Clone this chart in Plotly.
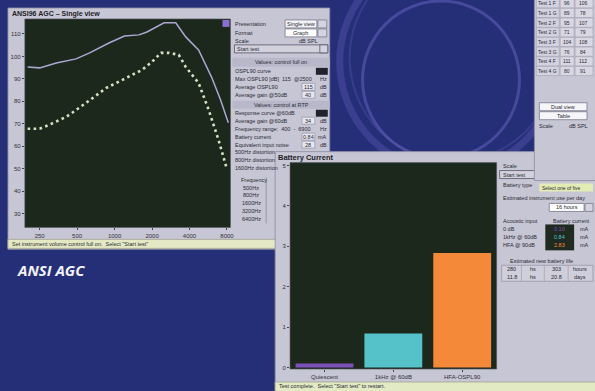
import math
import plotly.graph_objects as go

W, H = 595, 391

# ANSI AGC frequency response (dB SPL vs Hz)
ospl90_freq_hz = [200, 250, 340, 490, 630, 900, 1200, 1570, 1820, 2500, 3100, 3730, 4730, 6000, 7100, 8200]
ospl90_db = [95.3, 94.9, 97.1, 98.9, 101.6, 106.0, 109.1, 109.6, 110.9, 115.0, 115.0, 108.7, 102.9, 90.9, 80.7, 70.4]
response_freq_hz = [200, 250, 300, 410, 590, 860, 1240, 1660, 2000, 2360, 2730, 3280, 3730, 4730, 5700, 6830, 7930]
response_60db = [67.8, 67.8, 69.6, 73.1, 79.3, 86.0, 90.4, 94.0, 97.6, 101.6, 101.6, 100.7, 95.3, 88.2, 76.2, 62.9, 50.4]
freq_ticks = [250, 500, 1000, 2000, 4000, 8000]
level_ticks = [30, 40, 50, 60, 70, 80, 90, 100, 110]

# Battery current per acoustic input (mA)
battery_inputs = ["Quiescent", "1kHz @ 60dB", "HFA-OSPL90"]
battery_current_ma = [0.10, 0.84, 2.83]
battery_colors = ["#7d52b8", "#55c1c9", "#f5893a"]
current_ticks = [0, 1, 2, 3, 4, 5]
acoustic_inputs = ["0 dB", "1kHz @ 60dB", "HFA @ 90dB"]

# Test result table
test_names = ["Test 1 F", "Test 1 G", "Test 2 F", "Test 2 G", "Test 3 F", "Test 3 G", "Test 4 F", "Test 4 G"]
test_col_a = [96, 89, 95, 71, 104, 76, 111, 80]
test_col_b = [106, 78, 107, 79, 108, 84, 112, 91]

distortion_freqs = ["500Hz", "800Hz", "1600Hz", "3200Hz", "6400Hz"]

NAVY = "#252f78"
PANEL = "#c7c6d4"
FRAME = "#8d8ca3"
INK = "#2a2a35"
PLOT_BG = "#1d281d"
UI_FONT = "Liberation Sans"

shapes = []
annotations = []


def box(x0, y0, x1, y1, fill, line=None, lw=0.8):
    shapes.append(dict(
        type="rect", xref="paper", yref="paper",
        x0=x0 / W, x1=x1 / W, y0=1 - y1 / H, y1=1 - y0 / H,
        fillcolor=fill,
        line=dict(color=line if line else fill, width=lw if line else 0),
        layer="below"))


def ring(cx, cy, r, color, width):
    shapes.append(dict(
        type="circle", xref="paper", yref="paper",
        x0=(cx - r) / W, x1=(cx + r) / W, y0=1 - (cy + r) / H, y1=1 - (cy - r) / H,
        line=dict(color=color, width=width), fillcolor="rgba(0,0,0,0)",
        layer="below"))


def vline(x, y0, y1, color="#8d8ca3", width=0.8):
    shapes.append(dict(
        type="line", xref="paper", yref="paper",
        x0=x / W, x1=x / W, y0=1 - y1 / H, y1=1 - y0 / H,
        line=dict(color=color, width=width), layer="below"))


def text(x, y, s, size=5.5, color=INK, anchor="left", bold=False, family=UI_FONT):
    annotations.append(dict(
        xref="paper", yref="paper", x=x / W, y=1 - y / H,
        text=f"<b>{s}</b>" if bold else s, showarrow=False,
        xanchor=anchor, yanchor="middle", borderpad=0,
        font=dict(size=size, color=color, family=family)))


def plot_bg(xref, yref):
    shapes.append(dict(
        type="rect", xref=f"{xref} domain", yref=f"{yref} domain",
        x0=0, x1=1, y0=0, y1=1, fillcolor=PLOT_BG,
        line=dict(color="#555566", width=0.6), layer="below"))


# decorative rings on the backdrop
ring(452, 62, 110, "rgba(95,88,180,0.40)", 7)
ring(456, 58, 104, "rgba(100,92,185,0.30)", 2)
ring(444, 80, 79, "rgba(100,95,185,0.55)", 3)

# ---- AGC window ----
box(8, 8, 332, 250, PANEL, FRAME)
text(11, 14, "ANSI96 AGC – Single view", size=7, bold=True, color="#1e1e28")
plot_bg("x", "y")
box(224, 20, 231, 27, "#8b6fd0")

box(287, 20, 319, 28, "#f3f3f8", "#77778a")
box(320, 20, 329, 28, "#d4d3df", "#77778a")
box(287, 29, 319, 37, "#ffffff", "#77778a")
box(320, 29, 329, 37, "#d4d3df", "#77778a")
text(236, 24, "Presentation")
text(303, 24, "Single view", anchor="center")
text(236, 33, "Format")
text(303, 33, "Graph", anchor="center")
text(236, 41, "Scale")
text(300, 41, "dB SPL")
box(236, 45, 330, 53, "#d2d1dc", "#55556a")
box(322, 45, 330, 53, "#d4d3df", "#55556a")
text(238, 49, "Start test")

box(234, 58, 332, 67, "#b9b8cb")
text(283, 62.5, "Values: control full on", anchor="center")
text(236, 71, "OSPL90 curve")
box(318, 68, 330, 75, "#22222c")
text(236, 79, "Max OSPL90 [dB]  115  @2500")
text(321, 79, "Hz")
text(236, 87, "Average OSPL90")
box(304, 83.5, 317, 90.5, "#e6e6ee", "#9a99ad")
text(310.5, 87, "115", anchor="center")
text(321, 87, "dB")
text(236, 95, "Average gain @50dB")
box(304, 91.5, 317, 98.5, "#e6e6ee", "#9a99ad")
text(310.5, 95, "40", anchor="center")
text(321, 95, "dB")

box(234, 101, 332, 109, "#b9b8cb")
text(283, 105, "Values: control at RTP", anchor="center")
text(236, 113, "Response curve @60dB")
box(318, 110, 330, 117, "#22222c")
text(236, 121, "Average gain @60dB")
box(304, 117.5, 317, 124.5, "#e6e6ee", "#9a99ad")
text(310.5, 121, "34", anchor="center")
text(321, 121, "dB")
text(236, 129, "Frequency range:  400  -  6900")
text(321, 129, "Hz")
text(236, 137, "Battery current")
box(304, 133.5, 317, 140.5, "#e6e6ee", "#9a99ad")
text(310.5, 137, f"{battery_current_ma[1]:.2f}", anchor="center")
text(319, 137, "mA")
text(236, 145, "Equivalent input noise")
box(304, 141.5, 317, 148.5, "#e6e6ee", "#9a99ad")
text(310.5, 145, "28", anchor="center")
text(321, 145, "dB")
text(236, 152, "500Hz distortion")
text(236, 160, "800Hz distortion")
text(236, 168, "1600Hz distortion")
text(242, 180, "Frequency")
vline(268, 178, 224)
for i, f in enumerate(distortion_freqs):
    text(253, 188 + 7.8 * i, f, anchor="center")

box(8, 240, 282, 249, "#e4e9c3", "#a3a392")
text(11, 244.5, 'Set instrument volume control full on.  Select "Start test"', size=5.5)

# ---- Battery current window ----
box(277, 152, 600, 395, PANEL, FRAME)
text(279, 158, "Battery Current", size=7.5, bold=True, color="#1e1e28")
plot_bg("x2", "y2")

text(505, 166, "Scale")
box(503, 171, 540, 179, "#d2d1dc", "#55556a")
text(505, 175, "Start test")
text(505, 185, "Battery type")
box(543, 184, 597, 192, "#e3ecb5")
text(545, 188, "Select one of five", size=5)
text(505, 199, "Estimated instrument use per day")
box(553, 204, 588, 212, "#ffffff", "#77778a")
box(589, 204, 597, 212, "#d4d3df", "#77778a")
text(570.5, 208, "16 hours", anchor="center")
text(505, 222, "Acoustic input")
text(556, 222, "Battery current")
box(549, 225, 578, 251, "#1f2a21")
for i, (lab, val, col) in enumerate(zip(acoustic_inputs, battery_current_ma, battery_colors)):
    yy = 230 + 8 * i
    text(505, yy, lab)
    text(563.5, yy, f"{val:.2f}", anchor="center", color=col)
    text(583, yy, "mA")
text(545, 262, "Estimated new battery life", anchor="center")
box(505, 266, 597, 282, "#cfcedb", "#9a99ad")
for x_c in (525, 548, 572):
    vline(x_c, 266, 282, "#9a99ad", 0.6)
text(515, 270, "280", anchor="center")
text(536.5, 270, "hs", anchor="center")
text(560, 270, "303", anchor="center")
text(584, 270, "hours", anchor="center")
text(515, 278, "11.8", anchor="center")
text(536.5, 278, "hs", anchor="center")
text(560, 278, "20.8", anchor="center")
text(584, 278, "days", anchor="center")

box(277, 383, 600, 395, "#e2eac4", "#a3a392")
text(280, 387, 'Test complete.  Select "Start test" to restart.', size=5.5)

# ---- Test table window ----
box(538, -5, 600, 181, PANEL, FRAME)
for i, (name, a, b) in enumerate(zip(test_names, test_col_a, test_col_b)):
    y0 = -1.3 + 9.7 * i
    box(540, y0, 563, y0 + 9.2, "#d3d2de", "#9a99ad", 0.5)
    box(564, y0, 578, y0 + 9.2, "#d8d7e2", "#9a99ad", 0.5)
    box(579, y0, 597, y0 + 9.2, "#d8d7e2", "#9a99ad", 0.5)
    text(541, y0 + 4.6, name, size=5)
    text(571, y0 + 4.6, str(a), size=5, anchor="center")
    text(587, y0 + 4.6, str(b), size=5, anchor="center")
box(543, 103, 591, 111, "#f6f6fa", "#77778a")
text(567, 107, "Dual view", anchor="center")
box(543, 112, 591, 120, "#f6f6fa", "#77778a")
text(567, 116, "Table", anchor="center")
text(542, 126, "Scale")
text(572, 126, "dB SPL")

# caption on the backdrop
text(16, 271, "<i>ANSI AGC</i>", size=15, color="#f2f2fa", bold=True, family="Open Sans")

fig = go.Figure()
fig.add_trace(go.Scatter(
    x=ospl90_freq_hz, y=ospl90_db, mode="lines",
    line=dict(color="#a9a8d2", width=1.5), xaxis="x", yaxis="y",
    name="OSPL90"))
fig.add_trace(go.Scatter(
    x=response_freq_hz, y=response_60db, mode="lines",
    line=dict(color="#d6e2c2", width=2.6, dash="2.6px,3.4px"),
    xaxis="x", yaxis="y", name="Response @60dB"))
fig.add_trace(go.Bar(
    x=battery_inputs, y=battery_current_ma, marker=dict(color=battery_colors, line=dict(width=0)),
    width=0.84, xaxis="x2", yaxis="y2", name="Battery current"))

tick_font = dict(size=6, color="#30303a", family=UI_FONT)
axis_common = dict(showgrid=False, zeroline=False, showline=False, ticks="outside",
                   ticklen=2, tickwidth=0.8, tickcolor="#444450", tickfont=tick_font)

fig.update_layout(
    width=W, height=H, margin=dict(l=0, r=0, t=0, b=0),
    paper_bgcolor=NAVY, plot_bgcolor="rgba(0,0,0,0)",
    showlegend=False, shapes=shapes, annotations=annotations,
    xaxis=dict(type="log", domain=[25 / W, 232 / W],
               range=[math.log10(190), math.log10(8530)],
               tickvals=freq_ticks, ticktext=[str(t) for t in freq_ticks],
               anchor="y", **axis_common),
    yaxis=dict(domain=[1 - 228 / H, 1 - 19 / H], range=[23.8, 116.7],
               tickvals=level_ticks, anchor="x", **axis_common),
    xaxis2=dict(domain=[292 / W, 500 / W], anchor="y2", **axis_common),
    yaxis2=dict(domain=[1 - 370 / H, 1 - 163 / H], range=[-0.04, 5.07],
                tickvals=current_ticks, anchor="x2", **axis_common),
)

fig.write_html("out.html")
